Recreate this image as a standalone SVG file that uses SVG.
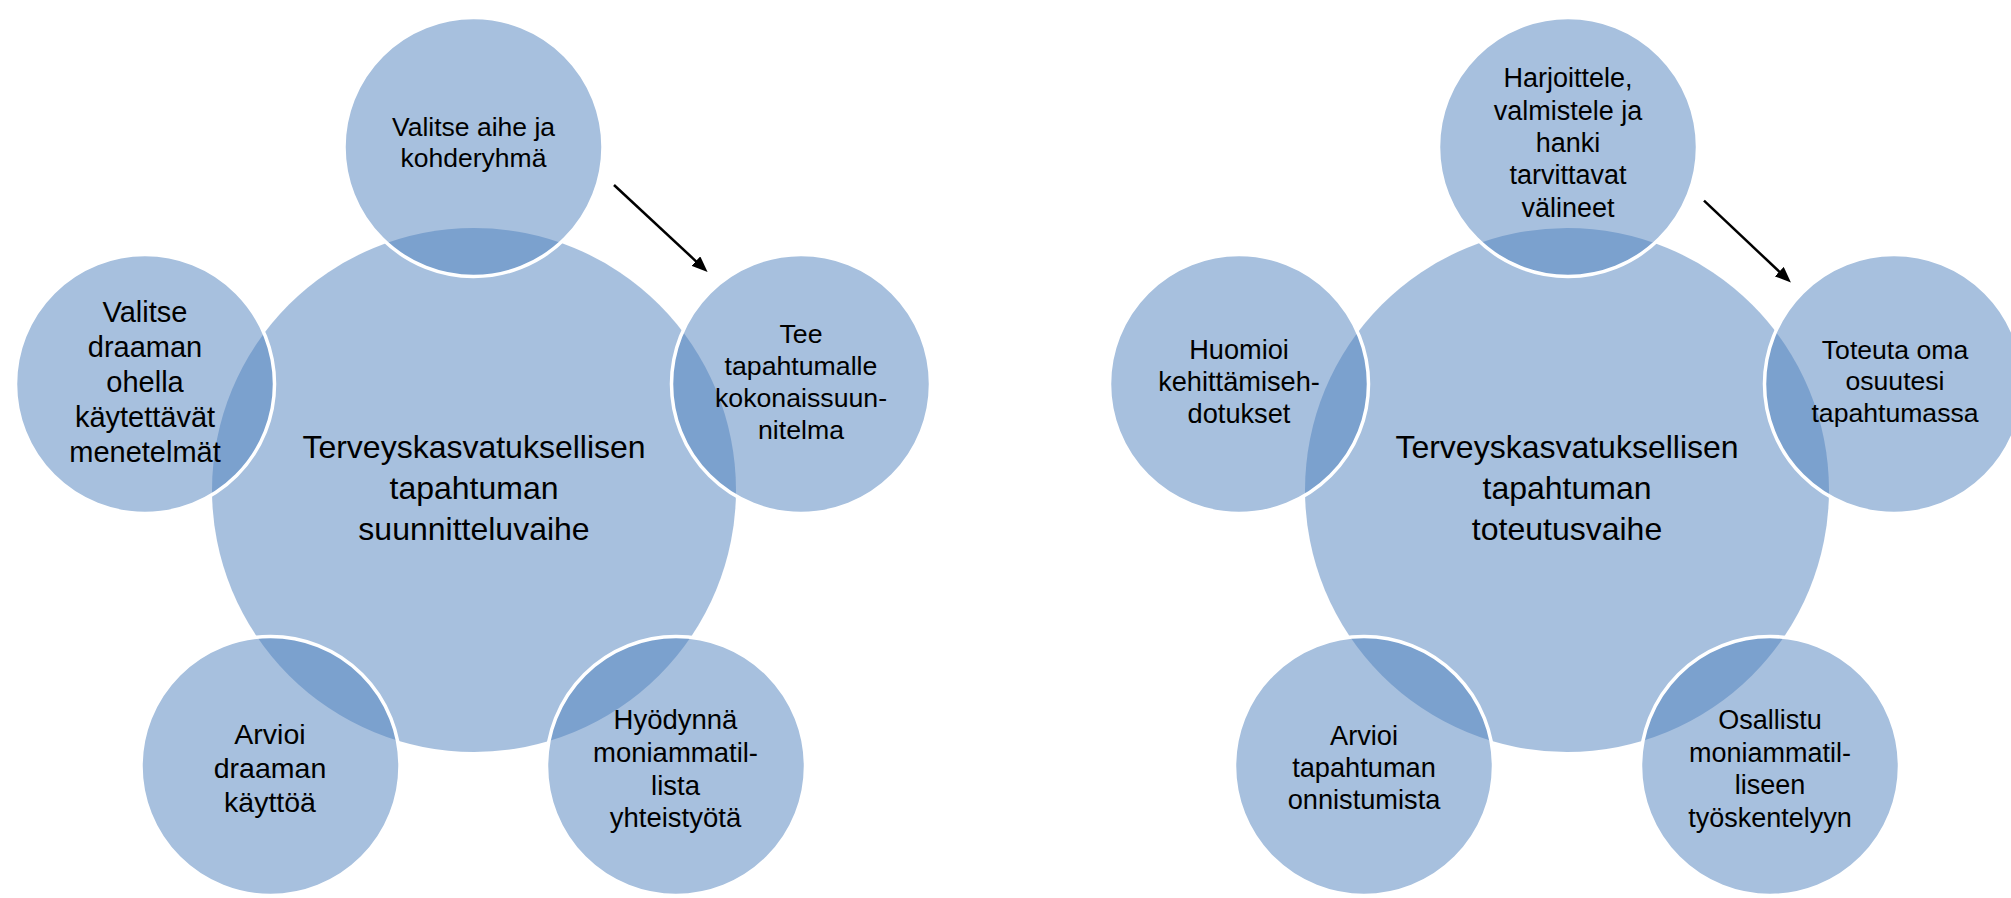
<svg xmlns="http://www.w3.org/2000/svg" width="2011" height="898" viewBox="0 0 2011 898">
<style>
.big{fill:#4F81BD;fill-opacity:0.5;stroke:none}
.small{fill:#4F81BD;fill-opacity:0.5;stroke:#FFFFFF;stroke-width:3.5}
.t{font-family:"Liberation Sans",Arial,sans-serif;fill:#000000;text-anchor:middle}
.conn{stroke:#000000;stroke-width:2.5;fill:none}
</style>
<defs>
<marker id="ah" viewBox="0 0 16 13" refX="1" refY="6.5" markerWidth="16" markerHeight="13" markerUnits="userSpaceOnUse" orient="auto">
<path d="M0,0 L16,6.5 L0,13 z" fill="#000000"/>
</marker>
</defs>
<rect x="0" y="0" width="2011" height="898" fill="#FFFFFF"/>

<!-- Left diagram -->
<g id="planning-center">
<circle class="big" cx="474" cy="490" r="262"/>
<text class="t" font-size="32"><tspan x="474" y="458.3">Terveyskasvatuksellisen</tspan><tspan x="474" y="499.3">tapahtuman</tspan><tspan x="474" y="540">suunnitteluvaihe</tspan></text>
</g>
<g id="planning-top">
<circle class="small" cx="473.5" cy="147" r="129.5"/>
<text class="t" font-size="26.5"><tspan x="473.5" y="135.7">Valitse aihe ja</tspan><tspan x="473.5" y="166.7">kohderyhmä</tspan></text>
</g>
<g id="planning-right">
<circle class="small" cx="801" cy="384" r="129.5"/>
<text class="t" font-size="26.7"><tspan x="801" y="342.5">Tee</tspan><tspan x="801" y="374.7">tapahtumalle</tspan><tspan x="801" y="406.9">kokonaissuun-</tspan><tspan x="801" y="439.1">nitelma</tspan></text>
</g>
<g id="planning-bottom-right">
<circle class="small" cx="676" cy="766" r="129.5"/>
<text class="t" font-size="27.5"><tspan x="675.5" y="729">Hyödynnä</tspan><tspan x="675.5" y="761.8">moniammatil-</tspan><tspan x="675.5" y="794.6">lista</tspan><tspan x="675.5" y="827.4">yhteistyötä</tspan></text>
</g>
<g id="planning-bottom-left">
<circle class="small" cx="270.5" cy="766" r="129.5"/>
<text class="t" font-size="28.5"><tspan x="270" y="743.5">Arvioi</tspan><tspan x="270" y="777.5">draaman</tspan><tspan x="270" y="811.5">käyttöä</tspan></text>
</g>
<g id="planning-left">
<circle class="small" cx="145" cy="384" r="129.5"/>
<text class="t" font-size="29"><tspan x="145" y="321.7">Valitse</tspan><tspan x="145" y="356.7">draaman</tspan><tspan x="145" y="391.7">ohella</tspan><tspan x="145" y="426.7">käytettävät</tspan><tspan x="145" y="461.7">menetelmät</tspan></text>
</g>

<!-- Right diagram -->
<g id="implementation-center">
<circle class="big" cx="1567" cy="490" r="262"/>
<text class="t" font-size="32"><tspan x="1567" y="458.3">Terveyskasvatuksellisen</tspan><tspan x="1567" y="499.3">tapahtuman</tspan><tspan x="1567" y="540">toteutusvaihe</tspan></text>
</g>
<g id="implementation-top">
<circle class="small" cx="1568" cy="147" r="129.5"/>
<text class="t" font-size="27"><tspan x="1568" y="87.3">Harjoittele,</tspan><tspan x="1568" y="119.6">valmistele ja</tspan><tspan x="1568" y="151.9">hanki</tspan><tspan x="1568" y="184.2">tarvittavat</tspan><tspan x="1568" y="216.5">välineet</tspan></text>
</g>
<g id="implementation-right">
<circle class="small" cx="1894" cy="384" r="129.5"/>
<text class="t" font-size="26.6"><tspan x="1895" y="359">Toteuta oma</tspan><tspan x="1895" y="390.3">osuutesi</tspan><tspan x="1895" y="421.6">tapahtumassa</tspan></text>
</g>
<g id="implementation-bottom-right">
<circle class="small" cx="1770" cy="766" r="129.5"/>
<text class="t" font-size="27"><tspan x="1770" y="729">Osallistu</tspan><tspan x="1770" y="761.5">moniammatil-</tspan><tspan x="1770" y="794">liseen</tspan><tspan x="1770" y="826.5">työskentelyyn</tspan></text>
</g>
<g id="implementation-bottom-left">
<circle class="small" cx="1364" cy="766" r="129.5"/>
<text class="t" font-size="27.2"><tspan x="1364" y="744.5">Arvioi</tspan><tspan x="1364" y="776.8">tapahtuman</tspan><tspan x="1364" y="809">onnistumista</tspan></text>
</g>
<g id="implementation-left">
<circle class="small" cx="1239" cy="384" r="129.5"/>
<text class="t" font-size="27.2"><tspan x="1239" y="359">Huomioi</tspan><tspan x="1239" y="391">kehittämiseh-</tspan><tspan x="1239" y="423">dotukset</tspan></text>
</g>

<g id="connectors">
<line class="conn" x1="614" y1="185" x2="696.6" y2="261.8" marker-end="url(#ah)"/>
<line class="conn" x1="1704" y1="200.7" x2="1780" y2="272.3" marker-end="url(#ah)"/>
</g>
</svg>
